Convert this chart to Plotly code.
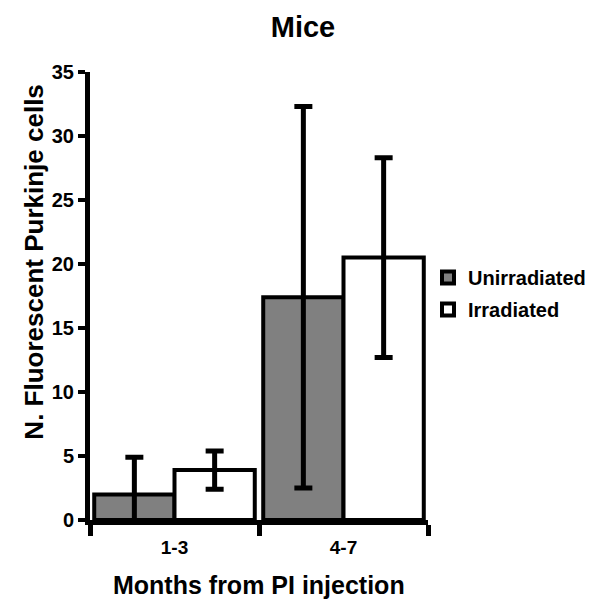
import plotly.graph_objects as go

categories = ["1-3", "4-7"]
unirradiated = [2.0, 17.4]
unirradiated_err = [2.9, 14.9]
irradiated = [3.9, 20.5]
irradiated_err = [1.5, 7.8]

FONT = "Liberation Sans, Arial, sans-serif"

fig = go.Figure()
fig.add_trace(go.Bar(
    x=categories, y=unirradiated, name="Unirradiated", legendgroup="u",
    marker=dict(color="#808080", line=dict(color="black", width=4)),
    error_y=dict(type="data", array=unirradiated_err, color="black", thickness=5, width=9),
))
fig.add_trace(go.Bar(
    x=categories, y=irradiated, name="Irradiated", legendgroup="i",
    marker=dict(color="white", line=dict(color="black", width=4)),
    error_y=dict(type="data", array=irradiated_err, color="black", thickness=5, width=9),
))

fig.update_layout(
    width=606, height=603,
    margin=dict(l=90, r=178, t=72, b=83),
    paper_bgcolor="white", plot_bgcolor="white",
    barmode="group", bargap=0.05, bargroupgap=0,
    title=dict(text="<b>Mice</b>", x=0.5, xanchor="center", y=0.955, yanchor="middle",
               font=dict(family=FONT, size=29, color="black")),
    font=dict(family=FONT, color="black"),
    legend=dict(x=1.0, y=0.585, xanchor="left", yanchor="top",
                font=dict(family=FONT, size=20, color="black", weight="bold"),
                bgcolor="rgba(0,0,0,0)", tracegroupgap=3, itemwidth=30),
    showlegend=True,
    annotations=[
        dict(text="<b>N. Fluorescent Purkinje cells</b>", textangle=-90,
             xref="paper", yref="paper", x=-0.165, y=0.575, xanchor="center", yanchor="middle",
             showarrow=False, font=dict(family=FONT, size=26, color="black")),
        dict(text="<b>Months from PI injection</b>",
             xref="paper", yref="paper", x=0.5, y=-0.145, xanchor="center", yanchor="middle",
             showarrow=False, font=dict(family=FONT, size=25, color="black")),
    ],
)
fig.update_xaxes(
    showline=True, linecolor="black", linewidth=5, automargin=False,
    ticks="outside", tickson="boundaries", ticklen=11, tickwidth=5, tickcolor="black",
    ticklabelstandoff=6,
    tickfont=dict(family=FONT, size=19, color="black", weight="bold"),
    showgrid=False, zeroline=False,
)
fig.update_yaxes(
    range=[0, 35], tickvals=[0, 5, 10, 15, 20, 25, 30, 35], automargin=False,
    showline=True, linecolor="black", linewidth=5,
    ticks="outside", ticklen=7, tickwidth=4, tickcolor="black",
    tickfont=dict(family=FONT, size=20, color="black", weight="bold"),
    showgrid=False, zeroline=False,
)

fig.write_html("out.html")
